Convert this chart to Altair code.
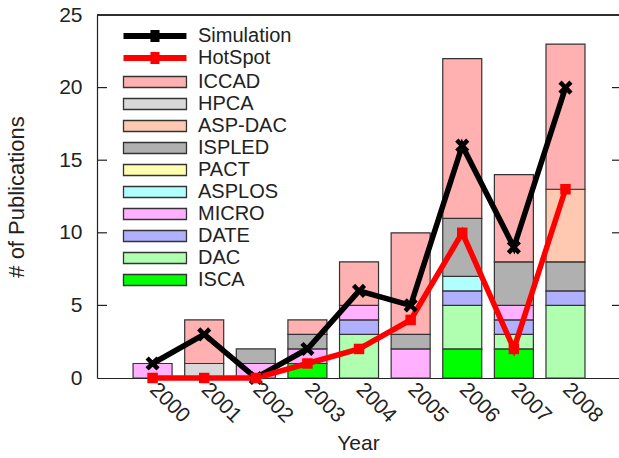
import altair as alt
import pandas as pd

years = [2000, 2001, 2002, 2003, 2004, 2005, 2006, 2007, 2008]

# stacked bar counts (bottom to top order)
venues = ["ISCA", "DAC", "DATE", "MICRO", "ASPLOS", "PACT", "ISPLED", "ASP-DAC", "HPCA", "ICCAD"]
ISCA = [0, 0, 0, 1, 0, 0, 2, 2, 0]
DAC = [0, 0, 0, 0, 3, 0, 3, 1, 5]
DATE = [0, 0, 0, 0, 1, 0, 1, 1, 1]
MICRO = [1, 0, 1, 1, 1, 2, 0, 1, 0]
ASPLOS = [0, 0, 0, 0, 0, 0, 1, 0, 0]
PACT = [0, 0, 0, 0, 0, 0, 0, 0, 0]
ISPLED = [0, 0, 1, 1, 0, 1, 4, 3, 2]
ASPDAC = [0, 0, 0, 0, 0, 0, 0, 0, 5]
HPCA = [0, 1, 0, 0, 0, 0, 0, 0, 0]
ICCAD = [0, 3, 0, 1, 3, 7, 11, 6, 10]

simulation = [1, 3, 0, 2, 6, 5, 16, 9, 20]
hotspot = [0, 0, 0, 1, 2, 4, 10, 2, 13]

line_names = ["Simulation", "HotSpot"]
line_colors = ["#000000", "#ff0000"]
bar_legend_order = ["ICCAD", "HPCA", "ASP-DAC", "ISPLED", "PACT",
                    "ASPLOS", "MICRO", "DATE", "DAC", "ISCA"]
bar_colors = ["#ffb0b0", "#d8d8d8", "#ffc8b0", "#b0b0b0", "#ffffb0",
              "#b0ffff", "#ffb0ff", "#b0b0ff", "#b0ffb0", "#00ff00"]

y_ticks = [0, 5, 10, 15, 20, 25]

series_counts = [ISCA, DAC, DATE, MICRO, ASPLOS, PACT, ISPLED, ASPDAC, HPCA, ICCAD]
bar_rows = []
for idx, (v, vals) in enumerate(zip(venues, series_counts)):
    for yr, c in zip(years, vals):
        if c > 0:
            bar_rows.append({"year": yr, "series": v, "n": c, "ord": idx})
bars_df = pd.DataFrame(bar_rows)

line_rows = []
for name, vals in zip(line_names, [simulation, hotspot]):
    for yr, c in zip(years, vals):
        line_rows.append({"year": yr, "series": name, "n": c})
lines_df = pd.DataFrame(line_rows)

ticks_df = pd.DataFrame({"n": y_ticks[1:-1]})

W, H = 522, 363
FONT = "Liberation Sans"
TXT = "#222"

xscale = alt.Scale(domain=[1999.02, 2008.94], nice=False, zero=False)
yscale = alt.Scale(domain=[0, 25], nice=False)

xaxis = alt.Axis(values=years, format="d", labelAngle=45, labelAlign="left",
                 labelBaseline="middle", labelPadding=8, ticks=False, grid=False,
                 labelFlush=False, labelOverlap=False, title="Year", titlePadding=6,
                 labelFontSize=21, titleFontSize=21, labelFont=FONT, titleFont=FONT,
                 labelColor=TXT, titleColor=TXT, titleFontWeight="normal",
                 domainColor=TXT, domainWidth=1.2)
yaxis = alt.Axis(values=y_ticks, ticks=False, grid=False, labelPadding=15,
                 title="# of Publications", titlePadding=30, labelFontSize=21,
                 titleFontSize=22, labelFont=FONT, titleFont=FONT, labelColor=TXT,
                 titleColor=TXT, titleFontWeight="normal", domainColor=TXT,
                 domainWidth=1.2, labelFlush=False)

rect_path = "M-1,-1H10.45V1H-1Z"
line_path = "M-1,-0.55H3.9V-1.1H5.55V-0.55H10.45V0.55H5.55V1.1H3.9V0.55H-1Z"

bar_legend = alt.Legend(
    title=None, orient="none", legendX=22, legendY=57, padding=0,
    labelFontSize=20, labelFont=FONT, labelColor=TXT, labelOffset=59,
    symbolSize=121, rowPadding=2, labelLimit=300, symbolType=rect_path,
    symbolStrokeColor="#333", symbolStrokeWidth=1.3, symbolOpacity=1,
)
line_legend = alt.Legend(
    title=None, orient="none", legendX=22, legendY=11, padding=0,
    labelFontSize=20, labelFont=FONT, labelColor=TXT, labelOffset=59,
    symbolSize=121, rowPadding=2, labelLimit=300, symbolType=line_path,
    symbolStrokeWidth=0, symbolOpacity=1,
)

fill = alt.Fill("series:N", scale=alt.Scale(domain=bar_legend_order, range=bar_colors),
                legend=bar_legend)
color = alt.Color("series:N", scale=alt.Scale(domain=line_names, range=line_colors),
                  legend=line_legend)

bars = alt.Chart(bars_df).mark_bar(size=39, stroke="#333", strokeWidth=1.2,
                                   fillOpacity=1).encode(
    x=alt.X("year:Q", scale=xscale, axis=xaxis),
    y=alt.Y("n:Q", scale=yscale, axis=yaxis, stack="zero"),
    fill=fill,
    order=alt.Order("ord:Q", sort="ascending"),
)

lines = alt.Chart(lines_df).mark_line(strokeWidth=5.5).encode(
    x=alt.X("year:Q", scale=xscale, axis=xaxis),
    y=alt.Y("n:Q", scale=yscale, axis=yaxis),
    color=color,
)

x_shape = ("M-1,-0.55L-0.55,-1L0,-0.45L0.55,-1L1,-0.55L0.45,0L1,0.55L0.55,1L0,0.45"
           "L-0.55,1L-1,0.55L-0.45,0Z")
sim_points = alt.Chart(lines_df).transform_filter(
    alt.datum.series == "Simulation"
).mark_point(filled=True, opacity=1, size=200, shape=x_shape, strokeWidth=0).encode(
    x=alt.X("year:Q", scale=xscale, axis=xaxis),
    y=alt.Y("n:Q", scale=yscale, axis=yaxis),
    color=color,
)
hs_points = alt.Chart(lines_df).transform_filter(
    alt.datum.series == "HotSpot"
).mark_point(filled=True, opacity=1, size=110, shape="square", strokeWidth=0).encode(
    x=alt.X("year:Q", scale=xscale, axis=xaxis),
    y=alt.Y("n:Q", scale=yscale, axis=yaxis),
    color=color,
)

left_ticks = alt.Chart(ticks_df).mark_rule(color=TXT, strokeWidth=1.2).encode(
    y=alt.Y("n:Q", scale=yscale, axis=yaxis),
    x=alt.value(0), x2=alt.value(10),
)
right_ticks = alt.Chart(ticks_df).mark_rule(color=TXT, strokeWidth=1.2).encode(
    y=alt.Y("n:Q", scale=yscale, axis=yaxis),
    x=alt.value(W - 7), x2=alt.value(W),
)
top_border = alt.Chart(ticks_df).mark_rule(color=TXT, strokeWidth=1.2).encode(
    y=alt.datum(25, scale=yscale),
    x=alt.value(0), x2=alt.value(W),
)

chart = alt.layer(bars, lines, sim_points, hs_points, left_ticks, right_ticks,
                  top_border).properties(
    width=W, height=H,
    autosize=alt.AutoSizeParams(type="none"),
    padding={"left": 97, "top": 15, "right": 0, "bottom": 80},
).configure_view(stroke=None).configure(background="white")

chart.save("out.html", embed_options={"renderer": "svg", "actions": False})
